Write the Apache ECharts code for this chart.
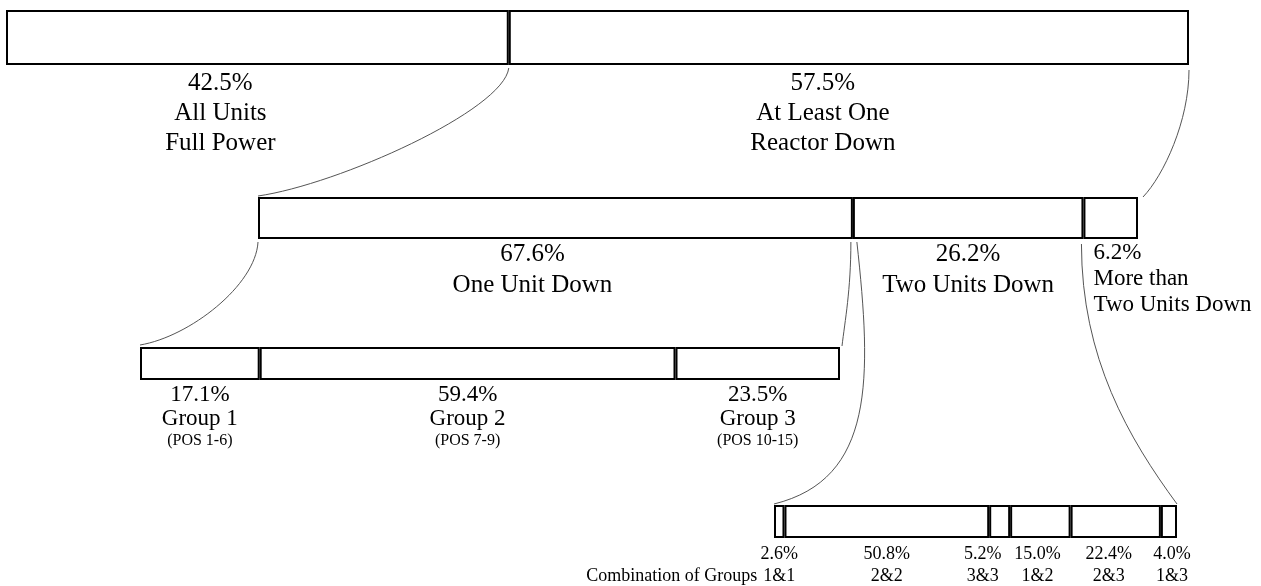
<!DOCTYPE html>
<html><head><meta charset="utf-8">
<script src="https://cdn.jsdelivr.net/npm/echarts@6/dist/echarts.min.js"></script>
<style>html,body{margin:0;padding:0;background:#fff}#c{width:1261px;height:586px}</style>
</head><body><div id="c"></div>
<script>
// ---------- DATA ----------
const level1Values = [42.5, 57.5];
const level1Names  = ['All Units\nFull Power', 'At Least One\nReactor Down'];

const level2Values = [67.6, 26.2, 6.2];
const level2Names  = ['One Unit Down', 'Two Units Down', 'More than\nTwo Units Down'];

const level3Values = [17.1, 59.4, 23.5];
const level3Names  = ['Group 1', 'Group 2', 'Group 3'];
const level3Sub    = ['(POS 1-6)', '(POS 7-9)', '(POS 10-15)'];

const level4Values = [2.6, 50.8, 5.2, 15.0, 22.4, 4.0];
const level4Names  = ['1&1', '2&2', '3&3', '1&2', '2&3', '1&3'];
const level4Prefix = 'Combination of Groups';

// ---------- LAYOUT / STYLE ----------
const FONT = '"Liberation Serif", "DejaVu Serif", serif';
const TXT = '#000';
const grids = [
  {left: 6,   top: 10,  width: 1183, height: 55},
  {left: 258, top: 197, width: 880,  height: 42},
  {left: 140, top: 347, width: 700,  height: 33},
  {left: 774, top: 505, width: 403,  height: 33}
];
const shift1 = [[-37, 0], [-26, 0]];
const shift2 = [[-23, 0], [0, 0], null];
const shift3 = [[0, 0], [0, 0], [0, 0]];
const shift4 = [[0, 0], [0, 0], [-17, 0], [-3, 0], [-7, 0], [3, 0]];

const fmtPct = v => v.toFixed(1) + '%';

function bar(g, v) {
  return {
    type: 'bar', stack: 'L' + g, xAxisIndex: g, yAxisIndex: g,
    barWidth: '100%', data: [v], silent: true,
    itemStyle: {color: '#fff', borderColor: '#000', borderWidth: 2}
  };
}

const series = [];
level1Values.forEach((v, i) => {
  const s = bar(0, v);
  s.label = {show: true, position: 'bottom', distance: 3, offset: shift1[i],
    formatter: fmtPct(v) + '\n' + level1Names[i],
    fontFamily: FONT, fontSize: 25, lineHeight: 30, color: TXT, align: 'center'};
  series.push(s);
});
level2Values.forEach((v, i) => {
  const s = bar(1, v);
  if (shift2[i]) {
    s.label = {show: true, position: 'bottom', distance: 0, offset: shift2[i],
      formatter: fmtPct(v) + '\n' + level2Names[i],
      fontFamily: FONT, fontSize: 25, lineHeight: 31, color: TXT, align: 'center'};
  } else {
    s.label = {show: true, position: ['0%', '100%'], offset: [10, 1],
      align: 'left', verticalAlign: 'top',
      formatter: fmtPct(v) + '\n' + level2Names[i],
      fontFamily: FONT, fontSize: 23, lineHeight: 26, color: TXT};
  }
  series.push(s);
});
level3Values.forEach((v, i) => {
  const s = bar(2, v);
  s.label = {show: true, position: 'bottom', distance: 3, offset: shift3[i],
    formatter: '{p|' + fmtPct(v) + '}\n{n|' + level3Names[i] + '}\n{s|' + level3Sub[i] + '}',
    color: TXT, align: 'center',
    rich: {
      p: {fontFamily: FONT, fontSize: 23, lineHeight: 23, color: TXT, align: 'center'},
      n: {fontFamily: FONT, fontSize: 23, lineHeight: 26, color: TXT, align: 'center'},
      s: {fontFamily: FONT, fontSize: 16, lineHeight: 17, color: TXT, align: 'center'}
    }};
  series.push(s);
});
level4Values.forEach((v, i) => {
  const s = bar(3, v);
  s.label = {show: true, position: 'bottom', distance: 5, offset: shift4[i],
    formatter: fmtPct(v) + '\n' + level4Names[i],
    fontFamily: FONT, fontSize: 18, lineHeight: 22, color: TXT, align: 'center'};
  series.push(s);
});

const option = {
  animation: false,
  backgroundColor: '#fff',
  grid: grids.map(g => Object.assign({containLabel: false}, g)),
  xAxis: grids.map((g, i) => ({type: 'value', gridIndex: i, min: 0, max: 100, show: false})),
  yAxis: grids.map((g, i) => ({type: 'category', gridIndex: i, data: ['L' + i], show: false})),
  series: series
};

const chart = echarts.init(document.getElementById('c'), null, {renderer: 'canvas'});
chart.setOption(option);

// ---------- CONNECTORS (endpoints from data boundaries) ----------
const cum = arr => { const o = [0]; arr.forEach(v => o.push(+(o[o.length - 1] + v).toFixed(4))); return o; };
const bounds = [cum(level1Values), cum(level2Values), cum(level3Values), cum(level4Values)];
const px = (g, v) => chart.convertToPixel({gridIndex: g}, [v, 0])[0];
const edgeY = (g, side) => side === 'top' ? grids[g].top : grids[g].top + grids[g].height;

// [grid, boundaryIndex, side, dx, dy]
const connectors = [
  {from: [0, 1, 'bottom', 0, 3], to: [1, 0, 'top', 0, -1], c: [0.02, 0.33, 0.68, 0.91]},
  {from: [0, 2, 'bottom', 0, 5], to: [1, 3, 'top', 5, 0], c: [0, 0.4, 0.55, 0.83]},
  {from: [1, 0, 'bottom', 0, 3], to: [2, 0, 'top', 0, -2], c: [0.02, 0.42, 0.58, 0.92]},
  {from: [1, 1, 'bottom', -2, 3], to: [2, 3, 'top', 2, -1], c: [0, 0.46, 0.67, 0.76]},
  {from: [1, 1, 'bottom', 4, 3], to: [3, 0, 'top', 0, -1], c: [-0.18, 0.52, -0.217, 0.905]},
  {from: [1, 2, 'bottom', -2, 5], to: [3, 6, 'top', 0, -1], c: [0, 0.44, 0.5, 0.75]}
];

const graphic = connectors.map(cn => {
  const x1 = px(cn.from[0], bounds[cn.from[0]][cn.from[1]]) + cn.from[3];
  const y1 = edgeY(cn.from[0], cn.from[2]) + cn.from[4];
  const x2 = px(cn.to[0], bounds[cn.to[0]][cn.to[1]]) + cn.to[3];
  const y2 = edgeY(cn.to[0], cn.to[2]) + cn.to[4];
  const dx = x2 - x1, dy = y2 - y1;
  return {
    type: 'bezierCurve', silent: true,
    shape: {x1, y1, x2, y2,
      cpx1: x1 + dx * cn.c[0], cpy1: y1 + dy * cn.c[1],
      cpx2: x1 + dx * cn.c[2], cpy2: y1 + dy * cn.c[3]},
    style: {stroke: '#555', lineWidth: 1, fill: null}
  };
});

// prefix text in front of the first combination label
const firstCenter = px(3, level4Values[0] / 2);
graphic.push({
  type: 'text', silent: true,
  x: firstCenter - 22, y: edgeY(3, 'bottom') + 5 + 22 + 11,
  style: {text: level4Prefix, fill: TXT, font: '18px ' + FONT, align: 'right', verticalAlign: 'middle'}
});

chart.setOption({graphic: graphic});
</script>
</body></html>
